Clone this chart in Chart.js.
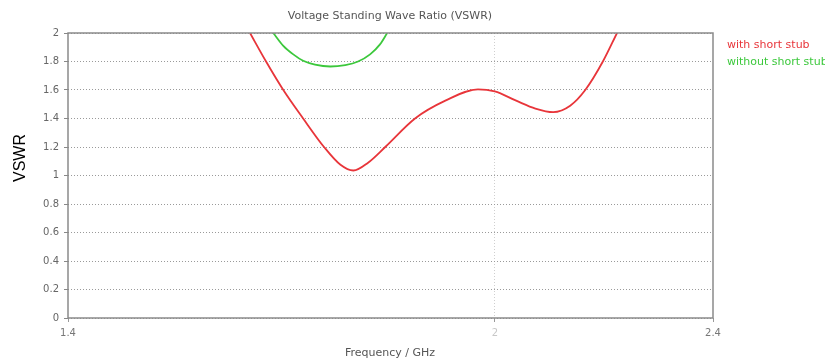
<!DOCTYPE html>
<html>
<head>
<meta charset="utf-8">
<script src="https://cdn.jsdelivr.net/npm/chart.js@4/dist/chart.umd.min.js"></script>
<style>
  html, body { margin: 0; padding: 0; background: #fff; }
  #wrap { width: 825px; height: 363px; }
</style>
</head>
<body>
<div id="wrap"><canvas id="vswr" width="825" height="363"></canvas></div>
<script>
// values (frequency in GHz, VSWR)
const withStubFreq = [1.630, 1.652, 1.676, 1.704, 1.734, 1.758, 1.777, 1.799, 1.825, 1.871, 1.919, 1.972, 2.000, 2.036, 2.069, 2.100, 2.130, 2.157, 2.189, 2.215];
const withStubVswr = [2.00, 1.80, 1.60, 1.40, 1.20, 1.075, 1.035, 1.09, 1.20, 1.40, 1.525, 1.605, 1.59, 1.525, 1.47, 1.445, 1.49, 1.60, 1.80, 2.00];
const noStubFreq = [1.662, 1.676, 1.690, 1.704, 1.721, 1.743, 1.765, 1.784, 1.802, 1.817, 1.828];
const noStubVswr = [2.00, 1.91, 1.85, 1.805, 1.778, 1.765, 1.775, 1.80, 1.85, 1.92, 2.00];
const xTicks = [1.4, 2, 2.4];
const seriesNames = ['with short stub', 'without short stub'];

const RED = '#e8353a', GREEN = '#3cc83c';
const FONT = '"DejaVu Sans", Verdana, sans-serif';

function pts(xs, ys) { return xs.map((x, i) => ({ x: x, y: ys[i] })); }

const textPlugin = {
  id: 'texts',
  afterDraw(chart) {
    const ctx = chart.ctx, a = chart.chartArea;
    ctx.save();
    // plot frame
    ctx.strokeStyle = '#8a8a8a';
    ctx.lineWidth = 1.5;
    ctx.strokeRect(a.left, a.top, a.right - a.left, a.bottom - a.top);

    ctx.textBaseline = 'middle';
    ctx.fillStyle = '#555';
    ctx.textAlign = 'center';
    ctx.font = '11px ' + FONT;
    ctx.fillText('Voltage Standing Wave Ratio (VSWR)', 390, 16);
    ctx.fillText('Frequency / GHz', 390, 353);

    ctx.textAlign = 'left';
    ctx.fillStyle = RED;
    ctx.fillText(seriesNames[0], 727, 45);
    ctx.fillStyle = GREEN;
    ctx.fillText(seriesNames[1], 727, 62);

    ctx.translate(21, 158);
    ctx.rotate(-Math.PI / 2);
    ctx.textAlign = 'center';
    ctx.fillStyle = '#000';
    ctx.font = '16px "Liberation Sans", Arial, sans-serif';
    ctx.fillText('VSWR', 0, 0);
    ctx.restore();
  }
};

new Chart(document.getElementById('vswr'), {
  type: 'line',
  data: {
    datasets: [
      { label: seriesNames[0], data: pts(withStubFreq, withStubVswr),
        borderColor: RED, borderWidth: 1.8, pointRadius: 0,
        cubicInterpolationMode: 'monotone', fill: false },
      { label: seriesNames[1], data: pts(noStubFreq, noStubVswr),
        borderColor: GREEN, borderWidth: 1.8, pointRadius: 0,
        cubicInterpolationMode: 'monotone', fill: false }
    ]
  },
  options: {
    responsive: false,
    animation: false,
    layout: { padding: { top: 33, right: 112, left: 0, bottom: 0 } },
    plugins: { legend: { display: false }, title: { display: false }, tooltip: { enabled: false } },
    scales: {
      x: {
        type: 'logarithmic', min: 1.4, max: 2.4,
        afterBuildTicks: s => { s.ticks = xTicks.map(v => ({ value: v })); },
        afterFit: s => { s.height = 45; },
        ticks: {
          autoSkip: false, maxRotation: 0, padding: 5,
          color: ctx => ctx.tick && ctx.tick.value === 2 ? '#c8c8c8' : '#777',
          font: { family: FONT, size: 10 },
          callback: v => String(v)
        },
        grid: {
          color: ctx => ctx.tick && ctx.tick.value === 2 ? '#cfcfcf' : 'rgba(0,0,0,0)',
          tickColor: '#999', tickLength: 4, lineWidth: 1
        },
        border: { display: false, dash: [1, 2] }
      },
      y: {
        min: 0, max: 2,
        afterFit: s => { s.width = 68; },
        ticks: {
          stepSize: 0.2, padding: 5, color: '#666',
          font: { family: FONT, size: 10 },
          callback: v => String(Math.round(v * 10) / 10)
        },
        grid: { color: '#9a9a9a', tickColor: '#888', tickLength: 4, lineWidth: 1 },
        border: { display: false, dash: [1, 2] }
      }
    }
  },
  plugins: [textPlugin]
});
</script>
</body>
</html>
